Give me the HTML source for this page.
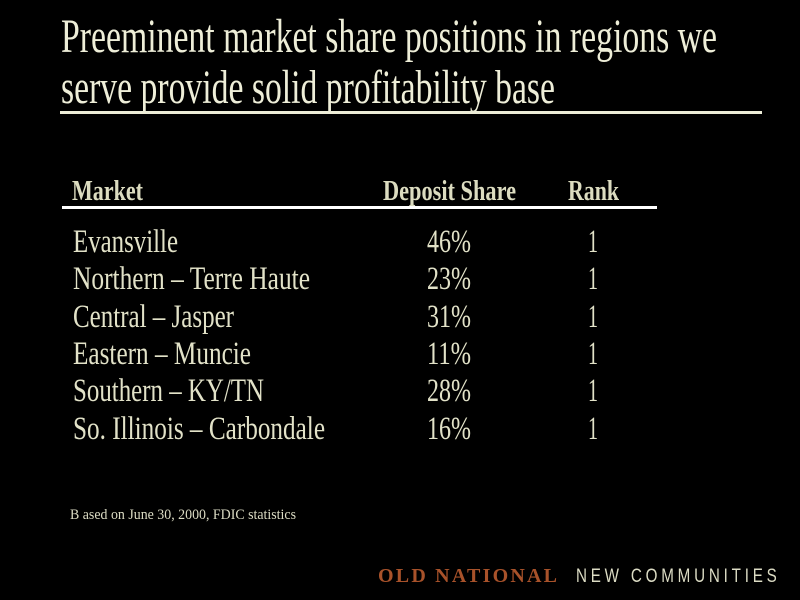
<!DOCTYPE html>
<html>
<head>
<meta charset="utf-8">
<style>
  html, body { margin: 0; padding: 0; background: #000; }
  body { width: 800px; height: 600px; overflow: hidden; }
  svg { display: block; }
</style>
</head>
<body>
<svg width="800" height="600" viewBox="0 0 800 600" xmlns="http://www.w3.org/2000/svg">
  <rect x="0" y="0" width="800" height="600" fill="#000"/>

  <!-- Title -->
  <g font-family="'Liberation Serif', serif" font-size="48" fill="#eeeed8">
    <text x="61" y="52" textLength="656" lengthAdjust="spacingAndGlyphs">Preeminent market share positions in regions we</text>
    <text x="61" y="103" textLength="494" lengthAdjust="spacingAndGlyphs">serve provide solid profitability base</text>
  </g>
  <rect x="60" y="111" width="702" height="3" fill="#eeeed8"/>

  <!-- Table header -->
  <g font-family="'Liberation Serif', serif" font-size="28" font-weight="bold" fill="#dcdcc0">
    <text x="72" y="200" textLength="71" lengthAdjust="spacingAndGlyphs">Market</text>
    <text x="383" y="200" textLength="133" lengthAdjust="spacingAndGlyphs">Deposit Share</text>
    <text x="568" y="200" textLength="51" lengthAdjust="spacingAndGlyphs">Rank</text>
  </g>
  <rect x="62" y="206" width="595" height="3" fill="#ffffff"/>

  <!-- Table body -->
  <g font-family="'Liberation Serif', serif" font-size="33" fill="#e2e2c8">
    <text x="73" y="252" textLength="105" lengthAdjust="spacingAndGlyphs">Evansville</text>
    <text x="73" y="289" textLength="237" lengthAdjust="spacingAndGlyphs">Northern – Terre Haute</text>
    <text x="73" y="327" textLength="161" lengthAdjust="spacingAndGlyphs">Central – Jasper</text>
    <text x="73" y="364" textLength="178" lengthAdjust="spacingAndGlyphs">Eastern – Muncie</text>
    <text x="73" y="401" textLength="191" lengthAdjust="spacingAndGlyphs">Southern – KY/TN</text>
    <text x="73" y="439" textLength="252" lengthAdjust="spacingAndGlyphs">So. Illinois – Carbondale</text>

    <text x="427" y="252" textLength="44" lengthAdjust="spacingAndGlyphs">46%</text>
    <text x="427" y="289" textLength="44" lengthAdjust="spacingAndGlyphs">23%</text>
    <text x="427" y="327" textLength="44" lengthAdjust="spacingAndGlyphs">31%</text>
    <text x="427" y="364" textLength="44" lengthAdjust="spacingAndGlyphs">11%</text>
    <text x="427" y="401" textLength="44" lengthAdjust="spacingAndGlyphs">28%</text>
    <text x="427" y="439" textLength="44" lengthAdjust="spacingAndGlyphs">16%</text>

    <text x="588" y="252" textLength="10" lengthAdjust="spacingAndGlyphs">1</text>
    <text x="588" y="289" textLength="10" lengthAdjust="spacingAndGlyphs">1</text>
    <text x="588" y="327" textLength="10" lengthAdjust="spacingAndGlyphs">1</text>
    <text x="588" y="364" textLength="10" lengthAdjust="spacingAndGlyphs">1</text>
    <text x="588" y="401" textLength="10" lengthAdjust="spacingAndGlyphs">1</text>
    <text x="588" y="439" textLength="10" lengthAdjust="spacingAndGlyphs">1</text>
  </g>

  <!-- Footnote -->
  <text x="70" y="519" font-family="'Liberation Serif', serif" font-size="15" fill="#dcdcc4" textLength="226" lengthAdjust="spacingAndGlyphs">B ased on June 30, 2000, FDIC statistics</text>

  <!-- Footer brand -->
  <text x="378" y="582" font-family="'Liberation Serif', serif" font-size="20" font-weight="bold" fill="#a8522a" textLength="179" lengthAdjust="spacing">OLD NATIONAL</text>
  <g transform="translate(576,582) scale(0.8,1)">
    <text x="0" y="0" font-family="'Liberation Sans', sans-serif" font-size="19" fill="#dcdcc4" textLength="251" lengthAdjust="spacing">NEW COMMUNITIES</text>
  </g>
</svg>
</body>
</html>
